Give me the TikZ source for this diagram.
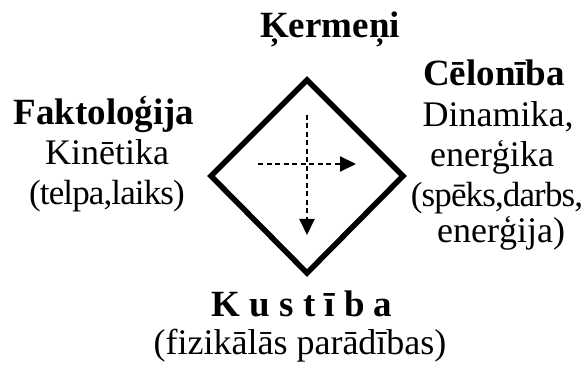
\documentclass[tikz,border=0pt]{standalone}
\usepackage{fontspec}
\setmainfont{Liberation Serif}
\usepackage{tikz}
\usetikzlibrary{arrows.meta}
\tikzset{
  frame/.style={draw=black, line width=5.5pt, line join=miter},
  flow/.style={draw=black, line width=2pt, dash pattern=on 5pt off 3.5pt,
    -{Triangle[length=16pt,width=15pt]}},
  lab/.style={inner sep=0pt, anchor=base, font=\fontsize{36}{40}\selectfont},
  head/.style={lab, font=\fontsize{37}{40}\selectfont\bfseries},
  tight/.style={lab, font=\fontsize{35}{40}\selectfont\addfontfeature{LetterSpace=-2.5}},
}

\begin{document}
\begin{tikzpicture}[x=1pt,y=1pt]
  \useasboundingbox (0,0) rectangle (587,366);

  \coordinate (T) at (307,286);
  \coordinate (L) at (211,190);
  \coordinate (R) at (403,190);
  \coordinate (B) at (307,93);

  \draw[frame] (T)--(R)--(B)--(L)--cycle;

  \coordinate (vin) at (307,251);
  \coordinate (vout) at (307,131);
  \coordinate (hin) at (258,202);
  \coordinate (hout) at (356,202);
  \draw[flow] (vin)--(vout);
  \draw[flow] (hin)--(hout);

  % top
  \node[head] (kerm) at (330,328) {Ķermeņi};

  % left
  \node[head] (fakt) at (104,241) {Faktoloģija};
  \node[lab] (kin) at (107,201) {Kinētika};
  \node[tight] (telp) at (107,161) {(telpa,laiks)};

  % right
  \node[head] (celo) at (494,280) {Cēlonība};
  \node[lab] (din) at (498,239) {Dinamika,};
  \node[lab] (energ) at (492,199) {enerģika};
  \node[tight] (spek) at (497,159) {(spēks,darbs,};
  \node[lab] (enerj) at (501,123) {enerģija)};

  % bottom
  \node[head] (kust) at (302,49) {K u s t ī b a};
  \node[lab] (fiz) at (300,11) {(fizikālās parādības)};
\end{tikzpicture}
\end{document}
